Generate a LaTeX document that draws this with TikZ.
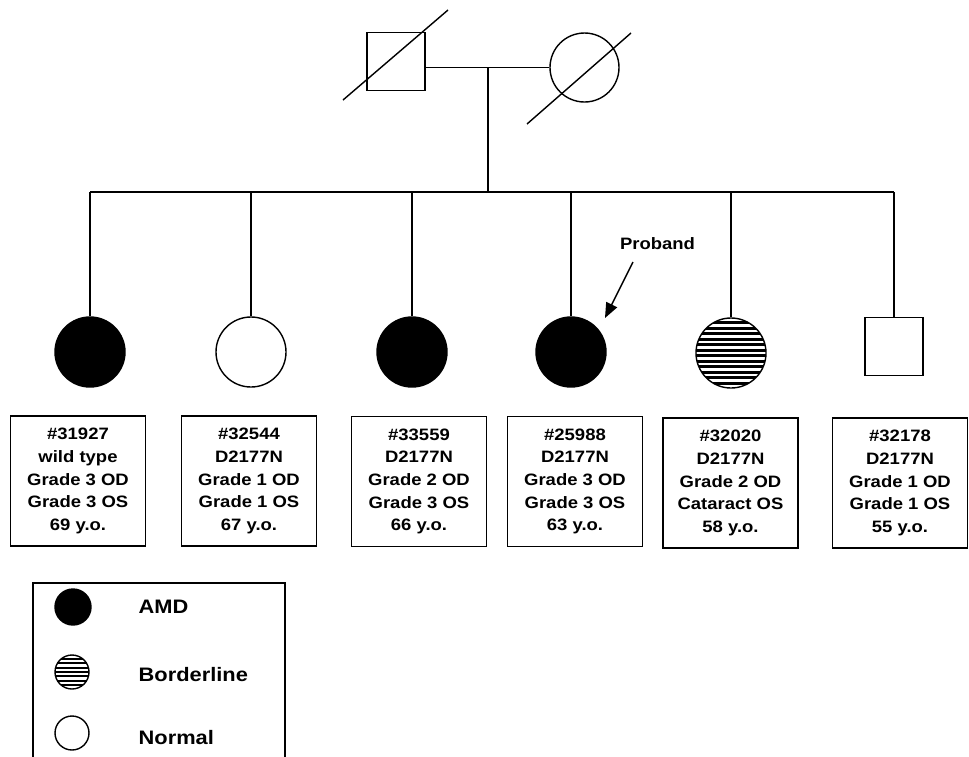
\documentclass[tikz,border=0pt]{standalone}
\usepackage{fontspec}
\setmainfont{Liberation Sans}[FakeStretch=1.12]
\usetikzlibrary{arrows.meta,calc}

\begin{document}
\begin{tikzpicture}[x=1pt,y=-1pt,line width=1.4pt]
\useasboundingbox (0,0) rectangle (969,756);
\clip (0,0) rectangle (969,756);

% parents
\begin{scope}[every node/.style={draw,line width=1.4pt,inner sep=0pt}]
\node[minimum size=58pt] (F) at (396,61.5) {};
\node[circle,minimum size=69pt] (M) at (584.5,67.5) {};
\end{scope}
\draw ($(F)+(-53,38.5)$) -- ($(F)+(52,-51.5)$);
\draw ($(M)+(-57.5,56.5)$) -- ($(M)+(46.5,-34.5)$);

\coordinate (D) at (488,67.5);
\coordinate (S) at (488,192);

% children
\begin{scope}[every node/.style={circle,draw,line width=1.4pt,minimum size=70pt,inner sep=0pt}]
\node[fill=black] (C1) at (90,352) {};
\node (C2) at (251,352) {};
\node[fill=black] (C3) at (412,352) {};
\node[fill=black] (C4) at (571,352) {};
\node (C5) at (731,353) {};
\node[rectangle,minimum size=58pt] (C6) at (894,346.5) {};
\end{scope}

\begin{scope}
\clip (C5) circle (35pt);
\foreach \dy in {-30.25,-24.75,...,30.5}
  \draw[line width=2.6pt] ($(C5)+(-36,\dy)$) -- ($(C5)+(36,\dy)$);
\end{scope}

% lines
\draw (F.east |- M.west) -- (M.west);
\draw (D) -- (S);
\draw (C1 |- S) -- (C6 |- S);
\foreach \c in {C1,C2,C3,C4,C5,C6}
  \draw (\c |- S) -- (\c);

% data boxes
\begin{scope}[every node/.style={draw,line width=1.4pt,minimum width=135pt,minimum height=130pt,inner sep=0pt,align=center,font=\fontsize{16.5}{22.7}\selectfont\bfseries}]
\node (B1) at (78,481) {\#31927\\wild type\\Grade 3 OD\\Grade 3 OS\\69 y.o.};
\node (B2) at (249,481) {\#32544\\D2177N\\Grade 1 OD\\Grade 1 OS\\67 y.o.};
\node (B3) at (419,481.5) {\#33559\\D2177N\\Grade 2 OD\\Grade 3 OS\\66 y.o.};
\node (B4) at (575,481.5) {\#25988\\D2177N\\Grade 3 OD\\Grade 3 OS\\63 y.o.};
\node (B5) at (730.5,483) {\#32020\\D2177N\\Grade 2 OD\\Cataract OS\\58 y.o.};
\node (B6) at (900,483) {\#32178\\D2177N\\Grade 1 OD\\Grade 1 OS\\55 y.o.};
\end{scope}

% proband
\node[font=\fontsize{16.5}{20}\selectfont\bfseries,inner sep=0pt] (PB) at (657.5,244) {Proband};
\coordinate (PBs) at (633,262);
\coordinate (PBe) at ($(C4)+(34,-34)$);
\draw[-{Triangle[length=15pt,width=12pt]}] (PBs) -- (PBe);

% legend
\draw (33,583) rectangle (285,780);
\begin{scope}[every node/.style={circle,draw,line width=1.4pt,inner sep=0pt}]
\node[fill=black,minimum size=36pt] (L1) at (73,607) {};
\node[minimum size=34pt] (L2) at (72,672) {};
\node[minimum size=34pt] (L3) at (72,733) {};
\end{scope}
\begin{scope}
\clip (L2) circle (17pt);
\foreach \dy in {-12.9,-8.6,...,13}
  \draw[line width=2pt] ($(L2)+(-18,\dy)$) -- ($(L2)+(18,\dy)$);
\end{scope}
\begin{scope}[every node/.style={anchor=west,inner sep=0pt,font=\fontsize{19.5}{22}\selectfont\bfseries}]
\node (T1) at (138,607) {AMD};
\node (T2) at (138,675) {Borderline};
\node (T3) at (138,738) {Normal};
\end{scope}
\end{tikzpicture}
\end{document}
